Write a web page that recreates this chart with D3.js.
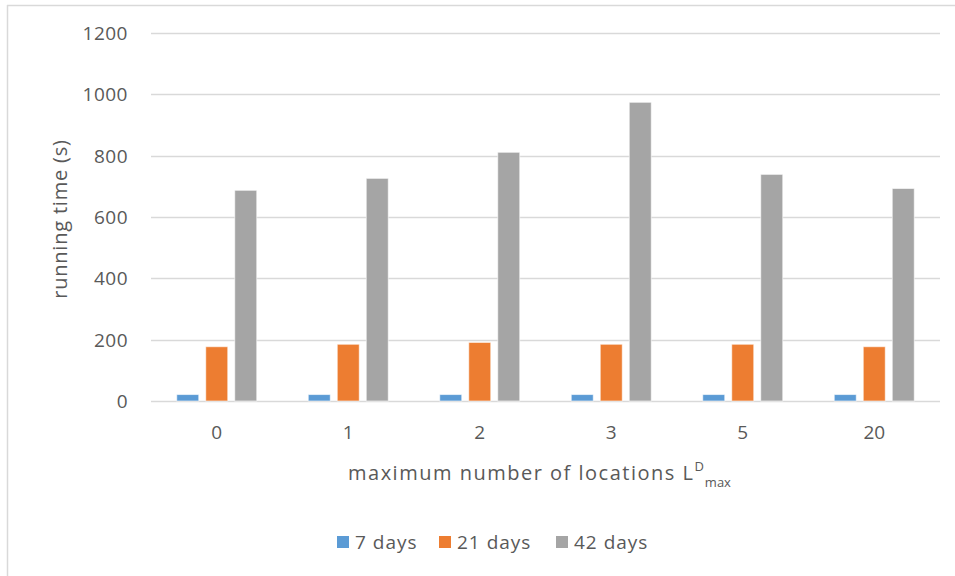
<!DOCTYPE html>
<html>
<head>
<meta charset="utf-8">
<script src="https://cdn.jsdelivr.net/npm/d3@7"></script>
<style>
  html, body { margin: 0; padding: 0; background: #fff; }
  svg { display: block; }
  text { font-family: "Open Sans", "Noto Sans", sans-serif; fill: #595959; }
</style>
</head>
<body>
<svg id="chart" width="955" height="576"></svg>
<script>
const categories = ["0", "1", "2", "3", "5", "20"];
const seriesNames = ["7 days", "21 days", "42 days"];
const days7 = [21, 21, 21, 21, 21, 21];
const days21 = [177, 185, 191, 185, 185, 177];
const days42 = [687, 726, 811, 974, 739, 693];
const seriesColors = ["#5B9BD5", "#ED7D31", "#A5A5A5"];
const yTicks = [0, 200, 400, 600, 800, 1000, 1200];

const seriesValues = [days7, days21, days42];

const svg = d3.select("#chart");
const W = 955, H = 576;
const plot = { left: 151, right: 940, top: 33, bottom: 401 };

// frame (top and left edges visible)
svg.append("line").attr("x1", 7).attr("x2", W).attr("y1", 5.5).attr("y2", 5.5)
  .attr("stroke", "#D9D9D9").attr("stroke-width", 1.5);
svg.append("line").attr("x1", 7.5).attr("x2", 7.5).attr("y1", 5).attr("y2", H)
  .attr("stroke", "#D9D9D9").attr("stroke-width", 1.5);

const x0 = d3.scaleBand().domain(categories).range([plot.left, plot.right]).padding(0);
const x1 = d3.scaleBand().domain(seriesNames)
  .range([25.75, x0.bandwidth() - 25.75]).paddingInner(7 / 29).paddingOuter(0);
const y = d3.scaleLinear().domain([0, 1200]).range([plot.bottom, plot.top]);

// gridlines
svg.append("g").selectAll("line").data(yTicks).join("line")
  .attr("x1", plot.left).attr("x2", plot.right)
  .attr("y1", d => Math.round(y(d)) + 0.5).attr("y2", d => Math.round(y(d)) + 0.5)
  .attr("stroke", "#D9D9D9").attr("stroke-width", 1.5);

// y axis labels
const yAxis = d3.axisLeft(y).tickValues(yTicks).tickFormat(d3.format("d")).tickSize(0).tickPadding(0);
const gy = svg.append("g").attr("transform", `translate(${plot.left - 23},0)`).call(yAxis);
gy.select(".domain").remove();
gy.selectAll("text").style("font-size", "19px").style("fill", "#595959")
  .style("letter-spacing", "0.5px")
  .attr("font-family", null).attr("dy", "0.35em");

// bars
const groups = svg.append("g").selectAll("g").data(categories).join("g")
  .attr("transform", d => `translate(${x0(d)},0)`);
groups.selectAll("rect")
  .data((c, i) => seriesNames.map((s, k) => ({ s, v: seriesValues[k][i], k })))
  .join("rect")
  .attr("x", d => x1(d.s))
  .attr("width", x1.bandwidth())
  .attr("y", d => y(d.v))
  .attr("height", d => y(0) - y(d.v))
  .attr("fill", d => seriesColors[d.k])
  .attr("stroke", "rgba(255,255,255,0.6)").attr("stroke-width", 1);

// x axis labels
const xAxis = d3.axisBottom(x0).tickSize(0).tickPadding(0);
const gx = svg.append("g").attr("transform", `translate(0,${plot.bottom + 31})`).call(xAxis);
gx.select(".domain").remove();
gx.selectAll("text").style("font-size", "19px").style("fill", "#595959")
  .attr("font-family", null).attr("dy", "0.35em");

// x axis title
const xt = svg.append("text").attr("x", 348).attr("y", 480)
  .style("font-size", "20px").style("letter-spacing", "1.5px").attr("text-anchor", "start");
xt.append("tspan").text("maximum number of locations ");
xt.append("tspan").text("L");
xt.append("tspan").attr("dy", -9).style("font-size", "13px").style("letter-spacing", "0px").text("D");
xt.append("tspan").attr("dx", 1).attr("dy", 16).style("font-size", "13px").style("letter-spacing", "0px").text("max");

// y axis title
svg.append("text")
  .attr("transform", `translate(67,219) rotate(-90)`)
  .attr("text-anchor", "middle")
  .style("font-size", "20px")
  .style("letter-spacing", "0.8px")
  .text("running time (s)");

// legend
const legendItems = [
  { name: seriesNames[0], color: seriesColors[0], x: 337 },
  { name: seriesNames[1], color: seriesColors[1], x: 439 },
  { name: seriesNames[2], color: seriesColors[2], x: 556 }
];
const lg = svg.append("g").selectAll("g").data(legendItems).join("g")
  .attr("transform", d => `translate(${d.x},542)`);
lg.append("rect").attr("x", 0).attr("y", -6).attr("width", 12).attr("height", 12)
  .attr("fill", d => d.color);
lg.append("text").attr("x", 18).attr("dy", "0.35em").style("font-size", "19px")
  .style("letter-spacing", "1px")
  .text(d => d.name);
</script>
</body>
</html>
